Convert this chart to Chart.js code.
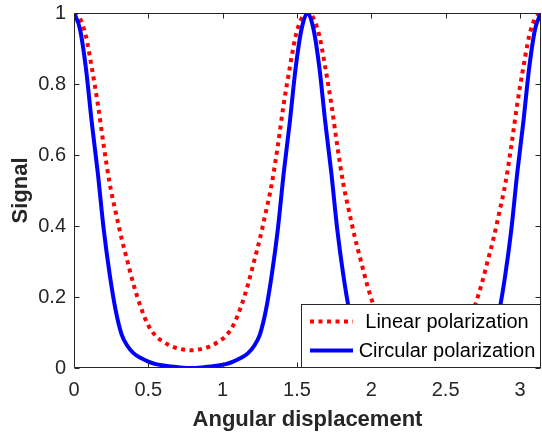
<!DOCTYPE html>
<html>
<head>
<meta charset="utf-8">
<script src="https://cdn.jsdelivr.net/npm/chart.js@4.4.1/dist/chart.umd.min.js"></script>
<style>
	html, body { margin: 0; padding: 0; background: #fff; }
</style>
</head>
<body>
<canvas id="chart-signal" width="542" height="433"></canvas>
<script>
// angle (rad) and signal values
const ANGLES = [
	0, 0.04, 0.08, 0.12, 0.16, 0.2, 0.24, 0.28, 0.32, 0.36, 0.4, 0.45, 0.5, 0.55, 0.6, 0.65, 0.7, 0.785,
	0.871, 0.921, 0.971, 1.021, 1.071, 1.121, 1.171, 1.211, 1.251, 1.291, 1.331, 1.371, 1.411, 1.451, 1.491, 1.531, 1.571,
	1.611, 1.651, 1.691, 1.731, 1.771, 1.811, 1.851, 1.891, 1.931, 1.971, 2.021, 2.071, 2.121, 2.171, 2.221, 2.271, 2.356,
	2.442, 2.492, 2.542, 2.592, 2.642, 2.692, 2.742, 2.782, 2.822, 2.862, 2.902, 2.942, 2.982, 3.022, 3.062, 3.102, 3.142,
];

const LINEAR = [
	1.0, 0.985, 0.935, 0.845, 0.744, 0.626, 0.52, 0.44, 0.365, 0.3, 0.236, 0.17, 0.12, 0.09, 0.074, 0.062, 0.055, 0.05,
	0.055, 0.062, 0.074, 0.09, 0.12, 0.17, 0.236, 0.3, 0.365, 0.44, 0.52, 0.626, 0.744, 0.845, 0.935, 0.985, 1.0,
	0.985, 0.935, 0.845, 0.744, 0.626, 0.52, 0.44, 0.365, 0.3, 0.236, 0.17, 0.12, 0.09, 0.074, 0.062, 0.055, 0.05,
	0.055, 0.062, 0.074, 0.09, 0.12, 0.17, 0.236, 0.3, 0.365, 0.44, 0.52, 0.626, 0.744, 0.845, 0.935, 0.985, 1.0,
];

const CIRCULAR = [
	1.0, 0.955, 0.845, 0.69, 0.55, 0.39, 0.264, 0.163, 0.095, 0.062, 0.042, 0.028, 0.018, 0.011, 0.007, 0.004, 0.002, 0.0,
	0.002, 0.004, 0.007, 0.011, 0.018, 0.028, 0.042, 0.062, 0.095, 0.163, 0.264, 0.39, 0.55, 0.69, 0.845, 0.955, 1.0,
	0.955, 0.845, 0.69, 0.55, 0.39, 0.264, 0.163, 0.095, 0.062, 0.042, 0.028, 0.018, 0.011, 0.007, 0.004, 0.002, 0.0,
	0.002, 0.004, 0.007, 0.011, 0.018, 0.028, 0.042, 0.062, 0.095, 0.163, 0.264, 0.39, 0.55, 0.69, 0.845, 0.955, 1.0,
];

const X_MAX = 3.1416;
const X_STEP = 0.5;
const Y_STEP = 0.2;

const TEXT_COLOR = "#262626";
const FONT = "'Liberation Sans', Arial, Helvetica, sans-serif";

const toPoints = (values) => values.map((v, i) => ({ x: ANGLES[i], y: v }));
// MATLAB style labels: 0, 0.5, 1 (no trailing zeros)
const plainLabel = (value) => String(Number(value.toFixed(2)));

//--------------------------------------------
// Box with inward ticks on all four sides
//--------------------------------------------
const axesBox = {
	id: "axesBox",
	afterDatasetsDraw(chart) {
		const { ctx, chartArea, scales } = chart;
		const l = Math.round(chartArea.left) + 0.5;
		const r = Math.round(chartArea.right) - 0.5;
		const t = Math.round(chartArea.top) + 0.5;
		const b = Math.round(chartArea.bottom) - 0.5;
		const tick = 5;

		ctx.save();
		ctx.strokeStyle = TEXT_COLOR;
		ctx.lineWidth = 1;
		ctx.beginPath();
		ctx.rect(l, t, r - l, b - t);

		scales.x.ticks.forEach((tk) => {
			const px = Math.round(scales.x.getPixelForValue(tk.value)) + 0.5;
			ctx.moveTo(px, b);
			ctx.lineTo(px, b - tick);
			ctx.moveTo(px, t);
			ctx.lineTo(px, t + tick);
		});
		scales.y.ticks.forEach((tk) => {
			const py = Math.round(scales.y.getPixelForValue(tk.value)) + 0.5;
			ctx.moveTo(l, py);
			ctx.lineTo(l + tick, py);
			ctx.moveTo(r, py);
			ctx.lineTo(r - tick, py);
		});
		ctx.stroke();
		ctx.restore();
	},
};

//--------------------------------------------
// Legend inside the lower right corner
//--------------------------------------------
const legendBox = {
	id: "legendBox",
	afterDraw(chart) {
		const { ctx, chartArea } = chart;
		const w = 240;
		const h = 64;
		const x0 = Math.round(chartArea.right) - w;
		const y0 = Math.round(chartArea.bottom) - h;

		ctx.save();
		ctx.fillStyle = "#fff";
		ctx.fillRect(x0, y0, w, h);
		ctx.strokeStyle = TEXT_COLOR;
		ctx.lineWidth = 1;
		ctx.strokeRect(x0 + 0.5, y0 + 0.5, w - 1, h - 1);

		chart.data.datasets.forEach((ds, i) => {
			const y = y0 + 17.5 + i * 29;
			ctx.beginPath();
			ctx.strokeStyle = ds.borderColor;
			ctx.lineWidth = ds.borderWidth;
			ctx.setLineDash(ds.borderDash || []);
			ctx.moveTo(x0 + 9, y);
			ctx.lineTo(x0 + 52, y);
			ctx.stroke();
			ctx.setLineDash([]);

			ctx.fillStyle = "#000";
			ctx.font = `20px ${FONT}`;
			ctx.textAlign = "center";
			ctx.textBaseline = "middle";
			ctx.fillText(ds.label, x0 + 146, y + 1);
		});
		ctx.restore();
	},
};

const CHART_DATA = {
	datasets: [
		{
			label: "Linear polarization",
			data: toPoints(LINEAR),
			borderColor: "#ff0000",
			borderWidth: 4,
			borderDash: [4, 4.5],
			order: 1,
		},
		{
			label: "Circular polarization",
			data: toPoints(CIRCULAR),
			borderColor: "#0000ff",
			borderWidth: 4,
			order: 0,
		},
	],
};

const CHART_CONFIG = {
	type: "line",
	data: CHART_DATA,
	plugins: [axesBox, legendBox],
	options: {
		responsive: false,
		animation: false,
		layout: {
			padding: { top: 13, right: 1, left: 0, bottom: 0 },
		},
		elements: {
			point: { radius: 0 },
			line: { cubicInterpolationMode: "monotone", fill: false },
		},
		scales: {
			x: {
				type: "linear",
				min: 0,
				max: X_MAX,
				grid: { display: false, drawTicks: false },
				border: { display: false },
				ticks: {
					stepSize: X_STEP,
					includeBounds: false,
					color: TEXT_COLOR,
					padding: 10,
					maxRotation: 0,
					font: { family: FONT, size: 20 },
					callback: plainLabel,
				},
				title: {
					display: true,
					text: "Angular displacement",
					color: TEXT_COLOR,
					font: { family: FONT, size: 22, weight: "bold", lineHeight: 1 },
					padding: { top: 0, bottom: 2 },
				},
				afterFit: (scale) => {
					scale.height = 65;
					scale.paddingLeft = 0;
					scale.paddingRight = 0;
				},
			},
			y: {
				min: 0,
				max: 1,
				grid: { display: false, drawTicks: false },
				border: { display: false },
				ticks: {
					stepSize: Y_STEP,
					color: TEXT_COLOR,
					padding: 8,
					font: { family: FONT, size: 20 },
					callback: plainLabel,
				},
				title: {
					display: true,
					text: "Signal",
					color: TEXT_COLOR,
					font: { family: FONT, size: 22, weight: "bold", lineHeight: 1 },
					padding: { top: 10, bottom: 0 },
				},
				afterFit: (scale) => {
					scale.width = 74;
					scale.paddingTop = 0;
					scale.paddingBottom = 0;
				},
			},
		},
		plugins: {
			legend: { display: false },
			title: { display: false },
			tooltip: { enabled: false },
		},
	},
};

new Chart(document.getElementById("chart-signal"), CHART_CONFIG);
</script>
</body>
</html>
